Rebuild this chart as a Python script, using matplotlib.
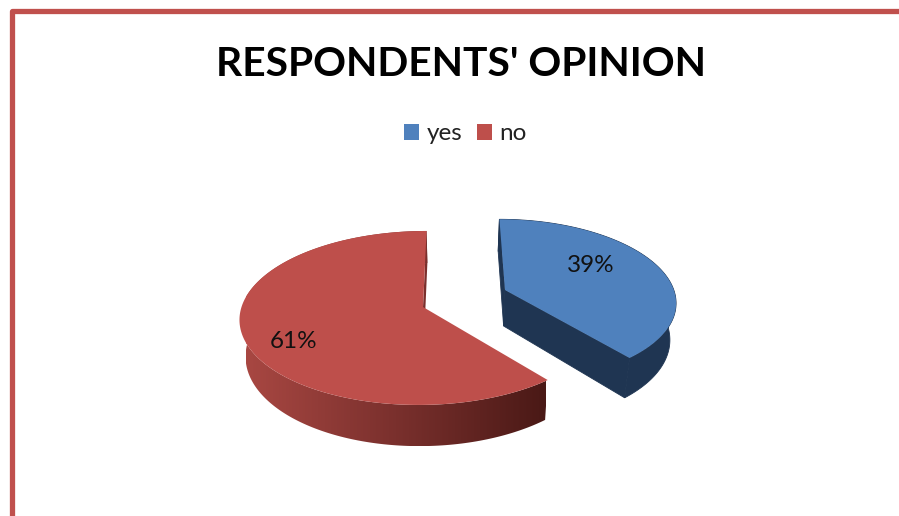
import numpy as np
import matplotlib
matplotlib.use("Agg")
import matplotlib.pyplot as plt
from matplotlib.patches import Polygon, Patch
from matplotlib.colors import LinearSegmentedColormap

title = "RESPONDENTS' OPINION"
labels = ["yes", "no"]
values = [39, 61]
top_colors = ["#4F81BD", "#BE4F4B"]

# apex of each slice on the canvas, slices are pulled apart
apex_x = [505, 423]
apex_y = [290, 307]
slice_scale = [0.93, 1.0]
label_pos = [(591, 266), (294, 342)]

# 3d pie projection settings
RX = 181.5
RY = 85.6
PERSP = 0.126
VANISH_X = 455
DEPTH = 36
SHRINK = 0.972

plt.rcParams["font.family"] = ["Lato", "DejaVu Sans"]

fig = plt.figure(figsize=(8.99, 5.16), dpi=100, facecolor="white")
ax = fig.add_axes([0, 0, 1, 1])
ax.set_xlim(0, 899)
ax.set_ylim(516, 0)
ax.axis("off")


def project(u, v, x0, y0, s=1.0):
    w = 1 + PERSP * v
    x = VANISH_X + (x0 - VANISH_X + s * RX * u) / w
    y = y0 - s * RY * v / w
    return x, y


def drop(u, v, x0, y0, s=1.0):
    # same point on the underside of the slab
    x, y = project(u, v, x0, y0, s)
    w = 1 + PERSP * v
    return VANISH_X + (x - VANISH_X) * SHRINK, y + DEPTH / w


def slice_points(a0, a1, x0, y0, s, under=False):
    t = np.radians(np.linspace(a0, a1, 200))
    fn = drop if under else project
    return fn(np.sin(t), np.cos(t), x0, y0, s)


# frame round the chart
ax.plot([11.5, 11.5, 899], [516, 10.5, 10.5], color="#C0504D", lw=3.8,
        solid_joinstyle="round", solid_capstyle="butt", zorder=1)

angles = np.cumsum([0] + values) / sum(values) * 360

# blue slice: plain dark side
a0, a1 = angles[0], angles[1]
x0, y0, s = apex_x[0], apex_y[0], slice_scale[0]
xt, yt = slice_points(a0, a1, x0, y0, s)
xb, yb = slice_points(a0, a1, x0, y0, s, under=True)
ax_side, ay_side = drop(0, 0, x0, y0, s)
wall = np.r_[np.c_[xt, yt], np.c_[xb, yb][::-1]]
ax.add_patch(Polygon(wall, fc="#1F3552", ec="#1F3552", lw=0.6, zorder=2))
# radial cut faces
for i in (0, -1):
    cut = [(x0, y0), (xt[i], yt[i]), (xb[i], yb[i]), (ax_side, ay_side)]
    ax.add_patch(Polygon(cut, fc="#1F3552", ec="#1F3552", lw=0.6, zorder=2))
ax.add_patch(Polygon(np.c_[np.r_[x0, xt], np.r_[y0, yt]], fc=top_colors[0], ec="none", zorder=3))

# red slice: side shaded from left to right
a0, a1 = angles[1], angles[2]
x0, y0, s = apex_x[1], apex_y[1], slice_scale[1]
xt, yt = slice_points(a0, a1, x0, y0, s)
xb, yb = slice_points(a0, a1, x0, y0, s, under=True)
ax_side, ay_side = drop(0, 0, x0, y0, s)
wall = Polygon(np.r_[np.c_[xt, yt], np.c_[xb, yb][::-1]], fc="none", ec="none", zorder=2)
ax.add_patch(wall)
reds = LinearSegmentedColormap.from_list("reds", ["#A84742", "#7A302D", "#4A1916"])
grad = ax.imshow(np.linspace(0, 1, 256).reshape(1, -1), cmap=reds, aspect="auto",
                 extent=[xb.min(), xb[0], yb.max(), yt.min()], zorder=2)
grad.set_clip_path(wall)
ax.set_xlim(0, 899)
ax.set_ylim(516, 0)
cut = [(x0, y0), (xt[-1], yt[-1]), (xb[-1], yb[-1]), (ax_side, ay_side)]
ax.add_patch(Polygon(cut, fc="#7A302D", ec="none", zorder=2))
ax.add_patch(Polygon(np.c_[np.r_[x0, xt], np.r_[y0, yt]], fc=top_colors[1], ec="none", zorder=3))

for (lx, ly), val in zip(label_pos, values):
    ax.text(lx, ly, f"{val}%", fontsize=17.5, color="#111111", ha="center", va="center", zorder=4)

ax.text(461, 65, title, fontsize=29.3, fontweight="bold", color="black",
        ha="center", va="center")

handles = [Patch(fc=c, ec="none", label=l) for c, l in zip(top_colors, labels)]
ax.legend(handles=handles, ncol=2, loc="center", bbox_to_anchor=(465.5, 134),
          bbox_transform=ax.transData, frameon=False, fontsize=17.5,
          handlelength=0.63, handleheight=0.63, handletextpad=0.3,
          columnspacing=0.6, borderpad=0, labelcolor="#222222")

fig.savefig("out.png", dpi=100, facecolor="white")
